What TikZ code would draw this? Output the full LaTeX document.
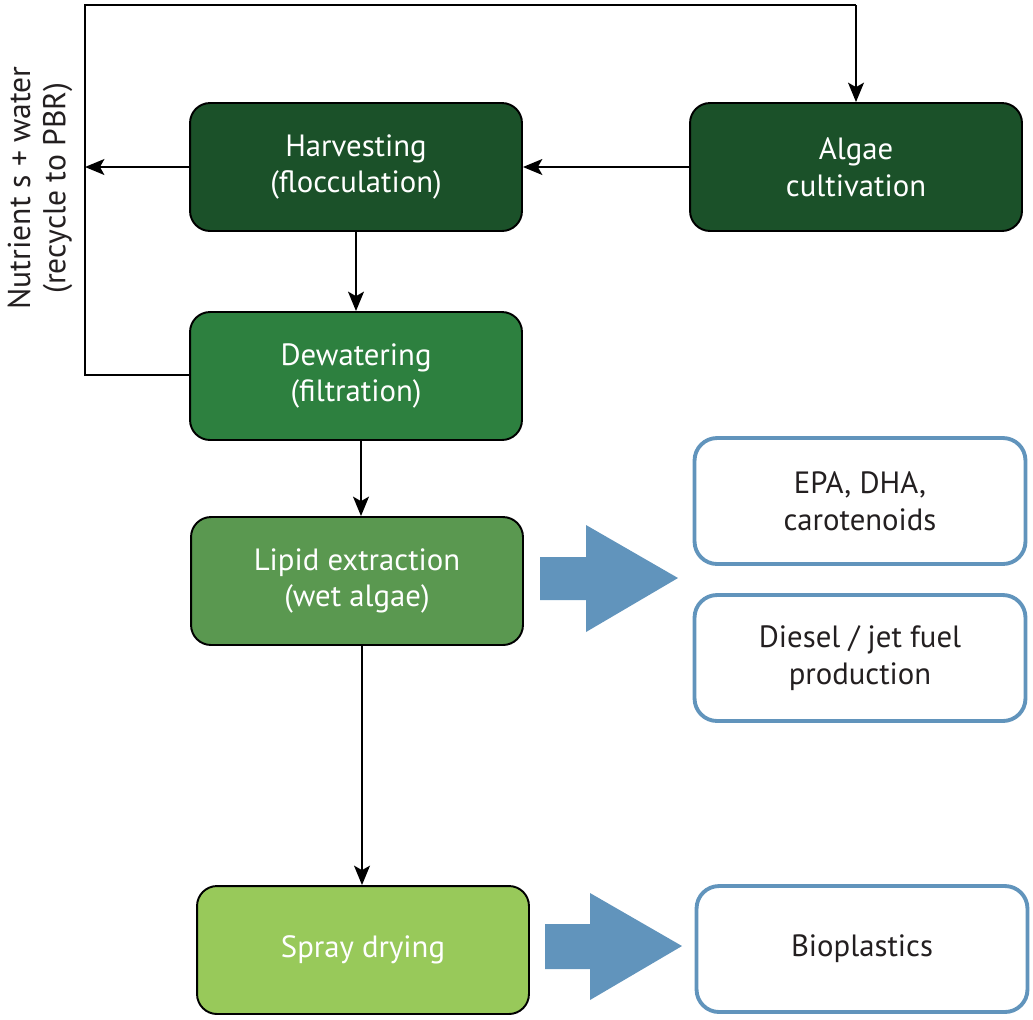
\documentclass[tikz,border=0pt]{standalone}
\usepackage{fontspec}
\setmainfont{PT Sans}
\usetikzlibrary{arrows.meta}
\definecolor{harvgreen}{HTML}{1B5129}
\definecolor{dewgreen}{HTML}{2D803F}
\definecolor{lipgreen}{HTML}{5A9850}
\definecolor{spraygreen}{HTML}{98C95A}
\definecolor{prodblue}{HTML}{6194BC}
\definecolor{txtgray}{HTML}{231F20}
\tikzset{
  stepbox/.style={draw=black, line width=1.1pt, rounded corners=0.4cm,
    minimum width=6.64cm, minimum height=2.56cm, align=center,
    text=white, font=\fontsize{17.5}{21}\selectfont},
  prodbox/.style={draw=prodblue, line width=2.2pt, fill=white, rounded corners=0.45cm,
    minimum width=6.62cm, minimum height=2.52cm, align=center,
    text=txtgray, font=\fontsize{17.5}{21}\selectfont},
  flow/.style={line width=1.4pt, -{Stealth[length=11pt,width=9pt,inset=2.5pt]}},
  bigarrow/.style={fill=prodblue}
}
\begin{document}
\begin{tikzpicture}[x=0.02cm,y=-0.02cm]
  \useasboundingbox (0,0) rectangle (1033,1019);
  % process steps
  \node [stepbox, fill=harvgreen] (harv) at (356,167) {Harvesting\\(flocculation)};
  \node [stepbox, fill=harvgreen] (algae) at (856,167) {Algae\\cultivation};
  \node [stepbox, fill=dewgreen] (dew) at (356,376) {Dewatering\\(filtration)};
  \node [stepbox, fill=lipgreen] (lipid) at (357,581) {Lipid extraction\\(wet algae)};
  \node [stepbox, fill=spraygreen] (spray) at (363,950) {Spray drying};
  % products
  \node [prodbox] (epa) at (860,501) {EPA, DHA,\\carotenoids};
  \node [prodbox] (diesel) at (860,658) {Diesel / jet fuel\\production};
  \node [prodbox] (bio) at (862,949) {Bioplastics};
  % recycle loop
  \coordinate (topL) at (85,5);
  \coordinate (recyc) at (85,167);
  \draw [line width=1.4pt] (dew.west |- 0,375) -- (85,375) -- (topL) -- (algae.north |- topL);
  \draw [flow] (algae.north |- topL) -- (algae.north);
  \draw [flow] (harv.west) -- (recyc);
  \node [rotate=90, align=center, text=txtgray, font=\fontsize{18}{20}\selectfont] (nutr) at (40,188)
    {Nutrient s + water\\(recycle to PBR)};
  % main flow
  \draw [flow] (algae.west) -- (harv.east);
  \draw [flow] (harv.south) -- (dew.north);
  \draw [flow] (dew.south -| 361,0) -- (lipid.north -| 361,0);
  \draw [flow] (lipid.south -| 362,0) -- (spray.north -| 362,0);
  % block arrows
  \fill [bigarrow] (540,557) -- (586,557) -- (586,525) -- (678,578) -- (586,632) -- (586,600) -- (540,600) -- cycle;
  \fill [bigarrow] (545,924) -- (590,924) -- (590,893) -- (682,946) -- (590,1000) -- (590,969) -- (545,969) -- cycle;
\end{tikzpicture}
\end{document}
